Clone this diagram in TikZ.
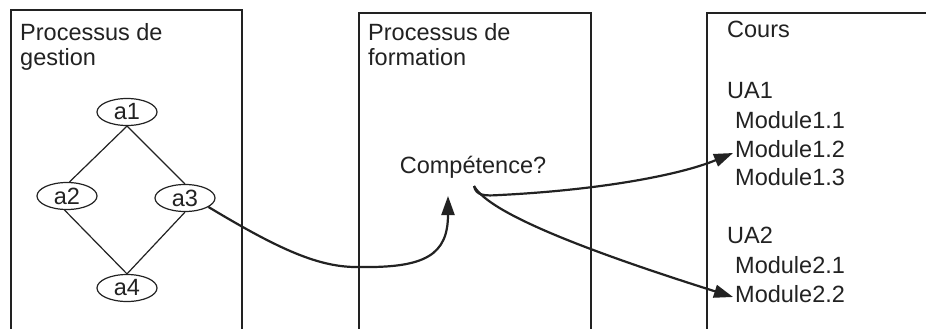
\documentclass[tikz,border=0pt]{standalone}
\usepackage{fontspec}
\setmainfont{Liberation Sans}
\usetikzlibrary{arrows.meta,shapes.geometric,calc}
\definecolor{ink}{HTML}{222222}
\begin{document}
\begin{tikzpicture}[x=1pt,y=-1pt,
  every node/.style={font=\fontsize{23.5}{25}\selectfont, text=ink, inner sep=0pt},
  lbl/.style={anchor=base west, align=left},
  act/.style={ellipse, draw=ink, line width=1.2pt, minimum width=60pt, minimum height=27pt},
  frame/.style={draw=ink, line width=1.5pt},
  link/.style={draw=ink, line width=1.2pt},
  flow/.style={draw=ink, line width=2.2pt, -{Triangle[length=19pt,width=13pt]}}]
\useasboundingbox (0,0) rectangle (926,329);
\fill[white] (0,0) rectangle (926,329);
% frames
\draw[frame] (11,329) -- (11,10) -- (242,10) -- (242,329);
\draw[frame] (359,329) -- (359,13) -- (591,13) -- (591,329);
\draw[frame] (707,329) -- (707,13) -- (926,13);
% titles (base anchor = baseline of the last line)
\node[lbl] (t1) at (20,66) {Processus de\\gestion};
\node[lbl] (t2) at (368,66) {Processus de\\formation};
\node[lbl] (t3) at (727,38) {Cours};
% course contents
\node[lbl] (ua1) at (727,98) {UA1};
\node[lbl] (m11) at (735,128) {Module1.1};
\node[lbl] (m12) at (735,157) {Module1.2};
\node[lbl] (m13) at (735,185) {Module1.3};
\node[lbl] (ua2) at (727,243) {UA2};
\node[lbl] (m21) at (735,273) {Module2.1};
\node[lbl] (m22) at (735,302) {Module2.2};
% competence
\node[anchor=base] (comp) at (473,173) {Compétence?};
% activities
\node[act] (a1) at (127,112) {a1};
\node[act] (a2) at (67,196) {a2};
\node[act] (a3) at (185,198) {a3};
\node[act] (a4) at (127,288) {a4};
\draw[link] (a1.south) -- (a2.80);
\draw[link] (a1.south) -- (a3.north);
\draw[link] (a2.-100) -- (a4.north);
\draw[link] (a3.south) -- (a4.north);
% arrows
\coordinate (cin) at (448,196);
\coordinate (cout) at (474,186);
\coordinate (t12) at ($(m12.base west)+(-2,-4)$);
\coordinate (t22) at ($(m22.base west)+(-2,-5)$);
\draw[flow] (a3.-21) .. controls (280,250) and (320,268) .. (360,267) .. controls (425,268) and (448,255) .. (cin);
\draw[flow] (cout) .. controls (476,196) and (485,196) .. (500,195) .. controls (600,190) and (680,175) .. (t12);
\draw[flow] (cout) .. controls (490,215) and (600,255) .. (t22);
\end{tikzpicture}
\end{document}
